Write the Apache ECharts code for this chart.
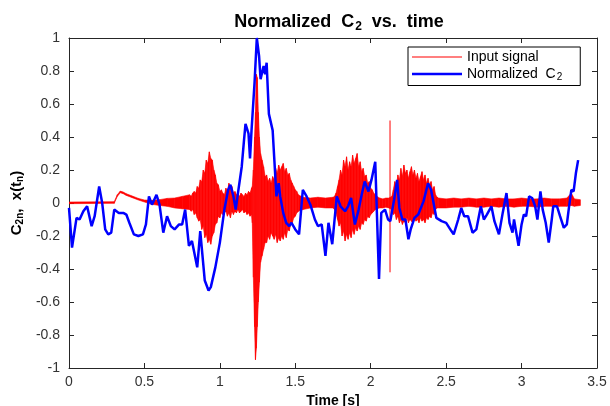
<!DOCTYPE html>
<html>
<head>
<meta charset="utf-8">
<script src="https://cdn.jsdelivr.net/npm/echarts@6/dist/echarts.min.js"></script>
<style>
html,body{margin:0;padding:0;background:#fff;overflow:hidden;}
#chart{width:610px;height:406px;}
</style>
</head>
<body>
<div id="chart"></div>
<script>
// ---- Normalized C2 (blue line) ----
const c2Time = [0,0.02,0.05,0.07,0.095,0.12,0.15,0.17,0.20,0.22,0.24,0.26,0.28,0.30,0.33,0.36,0.38,0.40,0.43,0.46,0.49,0.51,0.53,0.55,0.58,0.60,0.625,0.65,0.675,0.70,0.73,0.75,0.77,0.795,0.815,0.85,0.87,0.90,0.925,0.94,0.97,1.00,1.03,1.055,1.07,1.09,1.105,1.12,1.145,1.16,1.17,1.19,1.20,1.21,1.23,1.245,1.26,1.27,1.29,1.30,1.31,1.325,1.35,1.36,1.375,1.39,1.40,1.42,1.44,1.46,1.475,1.50,1.525,1.55,1.575,1.60,1.63,1.65,1.675,1.70,1.72,1.745,1.775,1.80,1.83,1.85,1.87,1.895,1.92,1.94,1.96,1.985,2.005,2.03,2.055,2.07,2.095,2.115,2.13,2.155,2.175,2.19,2.21,2.23,2.25,2.265,2.29,2.315,2.35,2.38,2.40,2.435,2.47,2.50,2.535,2.55,2.58,2.60,2.62,2.645,2.675,2.70,2.73,2.75,2.77,2.80,2.82,2.85,2.875,2.90,2.92,2.94,2.95,2.98,3.00,3.015,3.03,3.05,3.07,3.09,3.105,3.125,3.14,3.16,3.18,3.20,3.21,3.235,3.255,3.28,3.30,3.315,3.33,3.345,3.36,3.375];
const c2Value = [-0.03,-0.27,-0.09,-0.10,-0.05,-0.02,-0.14,-0.08,0.10,0.0,-0.16,-0.19,-0.18,-0.04,-0.06,-0.06,-0.07,-0.12,-0.19,-0.20,-0.19,-0.13,0.04,-0.01,0.05,-0.01,-0.18,-0.08,-0.14,-0.16,-0.13,-0.13,-0.04,-0.26,-0.23,-0.39,-0.17,-0.47,-0.53,-0.51,-0.39,-0.24,-0.04,0.08,0.11,0.04,-0.04,0.06,0.22,0.38,0.48,0.42,0.27,0.44,0.73,1.0,0.89,0.75,0.83,0.78,0.85,0.54,0.44,0.28,0.04,0.12,0.04,-0.06,-0.12,-0.14,-0.12,-0.16,-0.19,0.08,0.04,-0.01,-0.10,-0.14,-0.13,-0.32,-0.12,-0.25,0.04,-0.02,-0.05,-0.02,0.03,-0.13,-0.04,0.05,0.13,0.07,0.14,0.25,-0.46,-0.06,-0.04,-0.10,-0.11,0.02,0.14,-0.03,-0.10,-0.10,-0.22,-0.16,-0.09,-0.07,0.01,0.12,0.08,-0.09,-0.11,-0.12,-0.17,-0.19,-0.10,-0.03,-0.08,-0.08,-0.18,-0.16,-0.02,-0.10,-0.07,-0.02,-0.11,-0.19,-0.06,0.06,-0.12,-0.18,-0.10,-0.26,-0.13,-0.07,-0.08,0.04,0.03,-0.02,-0.10,0.07,-0.04,-0.12,-0.24,-0.10,-0.02,-0.02,-0.08,-0.15,-0.13,-0.02,0.08,0.07,0.18,0.26];

// ---- Input signal (red) envelope: time, upper, lower ----
const sigTime = [
  0,0.30,0.32,0.34,0.36,0.38,0.42,0.46,0.50,0.55,0.60,0.65,0.70,0.75,
  0.80,0.81,0.82,0.83,0.84,0.85,0.86,0.87,0.88,0.89,0.90,0.91,0.92,0.93,0.94,0.95,0.96,0.97,0.98,0.99,1.00,1.01,1.02,
  1.03,1.04,1.05,1.06,1.07,1.08,1.09,1.10,1.11,1.12,1.13,1.14,1.15,1.16,1.17,1.18,1.19,1.20,1.21,
  1.215,1.222,1.23,1.236,1.242,1.248,1.255,1.262,1.27,1.28,1.29,1.30,
  1.31,1.32,1.33,1.34,1.35,1.36,1.37,1.38,1.39,1.40,1.41,1.42,1.43,1.44,1.45,1.46,1.47,1.48,1.49,1.50,1.51,1.52,
  1.55,1.60,1.65,1.70,1.75,
  1.76,1.77,1.78,1.79,1.80,1.81,1.82,1.83,1.84,1.85,1.86,1.87,1.88,1.89,1.90,1.91,1.92,1.93,1.94,1.95,1.96,1.97,1.98,1.99,2.00,2.01,2.02,2.03,2.04,
  2.06,2.08,2.10,2.12,
  2.14,2.15,2.16,2.17,2.18,2.19,2.20,2.21,2.22,2.23,2.24,2.25,2.26,2.27,2.28,2.29,2.30,2.31,2.32,2.33,2.34,2.35,2.36,2.37,2.38,2.39,2.40,2.41,2.42,2.43,2.44,
  2.45,2.50,2.55,2.60,2.65,2.70,2.75,2.80,2.85,2.90,2.95,3.00,3.05,3.10,3.15,3.20,3.25,3.30,3.33,3.35,3.39];
const sigHi = [
  0.006,0.008,0.05,0.072,0.066,0.056,0.042,0.028,0.018,0.016,0.02,0.028,0.03,0.04,
  0.05,0.04,0.06,0.07,0.06,0.10,0.09,0.14,0.13,0.20,0.18,0.26,0.24,0.31,0.27,0.26,0.20,0.17,0.12,0.11,0.07,0.08,0.06,
  0.05,0.09,0.07,0.12,0.08,0.10,0.06,0.07,0.05,0.06,0.04,0.06,0.05,0.04,0.06,0.05,0.07,0.06,0.09,
  0.10,0.2,0.4,0.55,0.78,0.76,0.55,0.4,0.3,0.26,0.22,0.16,
  0.17,0.13,0.15,0.12,0.16,0.14,0.21,0.18,0.23,0.20,0.22,0.24,0.19,0.21,0.17,0.18,0.14,0.12,0.10,0.08,0.07,0.05,
  0.035,0.03,0.035,0.03,0.035,
  0.04,0.06,0.10,0.14,0.20,0.17,0.26,0.22,0.28,0.20,0.25,0.22,0.29,0.24,0.27,0.30,0.22,0.25,0.19,0.21,0.16,0.17,0.12,0.13,0.09,0.08,0.06,0.05,0.04,
  0.03,0.025,0.03,0.03,
  0.04,0.08,0.13,0.10,0.17,0.14,0.21,0.16,0.23,0.18,0.20,0.15,0.19,0.22,0.17,0.20,0.15,0.18,0.13,0.16,0.19,0.14,0.17,0.12,0.15,0.11,0.13,0.08,0.10,0.05,0.035,
  0.03,0.025,0.03,0.025,0.03,0.025,0.03,0.025,0.03,0.025,0.025,0.03,0.025,0.025,0.03,0.025,0.025,0.03,0.06,0.025,0.02];
const sigLo = [
  -0.004,-0.002,0.04,0.062,0.056,0.046,0.032,0.018,0.006,-0.008,-0.015,-0.02,-0.03,-0.035,
  -0.04,-0.05,-0.04,-0.07,-0.06,-0.09,-0.11,-0.10,-0.16,-0.14,-0.21,-0.19,-0.24,-0.22,-0.25,-0.20,-0.18,-0.13,-0.12,-0.08,-0.09,-0.06,-0.07,
  -0.06,-0.05,-0.08,-0.06,-0.09,-0.05,-0.07,-0.05,-0.06,-0.04,-0.06,-0.05,-0.04,-0.06,-0.05,-0.07,-0.06,-0.08,-0.07,
  -0.12,-0.45,-0.75,-0.95,-0.88,-0.75,-0.6,-0.48,-0.36,-0.32,-0.28,-0.24,
  -0.24,-0.20,-0.22,-0.18,-0.20,-0.22,-0.19,-0.24,-0.21,-0.23,-0.20,-0.22,-0.18,-0.21,-0.16,-0.17,-0.13,-0.12,-0.09,-0.08,-0.06,-0.05,
  -0.04,-0.03,-0.025,-0.03,-0.03,
  -0.04,-0.06,-0.10,-0.14,-0.12,-0.20,-0.17,-0.23,-0.19,-0.22,-0.18,-0.21,-0.16,-0.19,-0.15,-0.17,-0.14,-0.16,-0.12,-0.13,-0.10,-0.11,-0.08,-0.09,-0.07,-0.06,-0.05,-0.04,-0.035,
  -0.03,-0.03,-0.025,-0.03,
  -0.04,-0.07,-0.06,-0.10,-0.08,-0.12,-0.10,-0.13,-0.11,-0.12,-0.09,-0.12,-0.10,-0.11,-0.12,-0.09,-0.11,-0.10,-0.12,-0.09,-0.11,-0.10,-0.12,-0.09,-0.10,-0.08,-0.09,-0.06,-0.07,-0.04,-0.03,
  -0.03,-0.03,-0.025,-0.025,-0.02,-0.025,-0.025,-0.02,-0.025,-0.02,-0.025,-0.02,-0.02,-0.025,-0.02,-0.02,-0.02,-0.02,-0.015,-0.02,-0.015];
// isolated spike in the input signal
const spikeTime = [2.128, 2.128];
const spikeValue = [-0.42, 0.50];

const xTicks = {min: 0, max: 3.5, interval: 0.5};
const yTicks = {min: -1, max: 1, interval: 0.2};

const FONT = "'Liberation Sans', Arial, Helvetica, sans-serif";
const AX = '#262626';

const chart = echarts.init(document.getElementById('chart'));

function axisCommon(extra) {
  return Object.assign({
    type: 'value',
    splitLine: {show: false},
    axisLine: {show: true, onZero: false, lineStyle: {color: AX, width: 1}},
    axisTick: {show: true, inside: true, length: 5, lineStyle: {color: AX}},
    axisLabel: {show: false}
  }, extra);
}

const option = {
  animation: false,
  backgroundColor: '#fff',
  title: {
    text: '{n|Normalized  C}{s|2}{n|  vs.  time}',
    left: 334, top: 7, textAlign: 'center',
    textStyle: {rich: {
      n: {fontFamily: FONT, fontWeight: 'bold', fontSize: 18, color: '#000'},
      s: {fontFamily: FONT, fontWeight: 'bold', fontSize: 12, color: '#000', padding: [9, 0, 0, 1]}
    }}
  },
  legend: {
    orient: 'vertical',
    left: 408, top: 47,
    itemWidth: 50, itemHeight: 12, itemGap: 3,
    padding: [3, 18, 3, 4],
    borderColor: '#000', borderWidth: 1,
    backgroundColor: '#fff',
    selectedMode: false,
    data: [
      {name: 'Input signal', icon: 'path://M0,0H50V1H0Z'},
      {name: 'Normalized C2', icon: 'path://M0,0H50V2.5H0Z'}
    ],
    formatter: function (name) {
      return name === 'Normalized C2' ? '{t|Normalized  C}{u|2}' : '{t|' + name + '}';
    },
    textStyle: {
      rich: {
        t: {fontFamily: FONT, fontSize: 14, color: '#000'},
        u: {fontFamily: FONT, fontSize: 10, color: '#000', padding: [7, 0, 0, 1]}
      }
    }
  },
  grid: {left: 69, right: 13, top: 38, bottom: 38, containLabel: false, outerBoundsMode: 'none'},
  xAxis: [
    axisCommon(Object.assign({position: 'bottom',
      axisLabel: {show: true, color: '#333', fontFamily: FONT, fontSize: 14, margin: 7},
      name: 'Time [s]', nameLocation: 'middle', nameGap: 16,
      nameTextStyle: {fontFamily: FONT, fontWeight: 'bold', fontSize: 14, lineHeight: 15, color: '#000'}
    }, xTicks)),
    axisCommon(Object.assign({position: 'top'}, xTicks))
  ],
  yAxis: [
    axisCommon(Object.assign({position: 'left',
      axisLabel: {show: true, color: '#333', fontFamily: FONT, fontSize: 14, margin: 9},
      name: '{n|C}{s|2n}{n|,  x(t}{s|n}{n|)}', nameLocation: 'middle', nameGap: 42, nameRotate: 90,
      nameTextStyle: {rich: {
        n: {fontFamily: FONT, fontWeight: 'bold', fontSize: 15, color: '#000'},
        s: {fontFamily: FONT, fontWeight: 'bold', fontSize: 10, color: '#000', padding: [7, 0, 0, 0]}
      }}
    }, yTicks)),
    axisCommon(Object.assign({position: 'right'}, yTicks))
  ],
  series: [
    {
      name: 'Input signal', type: 'line', xAxisIndex: 0, yAxisIndex: 0,
      symbol: 'none', showSymbol: false,
      lineStyle: {color: '#ff0000', width: 1}, itemStyle: {color: '#ff0000'},
      data: spikeTime.map((t, i) => [t, spikeValue[i]]),
      z: 2
    },
    {
      name: 'Input envelope', type: 'custom', xAxisIndex: 0, yAxisIndex: 0,
      clip: true,
      data: sigTime.map((t, i) => [t, sigLo[i], sigHi[i]]),
      encode: {x: 0, y: [1, 2]},
      renderItem: function (params, api) {
        const i = params.dataIndex;
        if (i >= sigTime.length - 1) return null;
        const p1 = api.coord([sigTime[i], sigHi[i]]);
        const p2 = api.coord([sigTime[i + 1], sigHi[i + 1]]);
        const p3 = api.coord([sigTime[i + 1], sigLo[i + 1]]);
        const p4 = api.coord([sigTime[i], sigLo[i]]);
        return {
          type: 'polygon',
          shape: {points: [p1, p2, p3, p4]},
          style: {fill: '#ff0000', stroke: '#ff0000', lineWidth: 0.6}
        };
      },
      z: 2
    },
    {
      name: 'Normalized C2', type: 'line', xAxisIndex: 0, yAxisIndex: 0,
      symbol: 'none', showSymbol: false,
      lineStyle: {color: '#0000ff', width: 2.5}, itemStyle: {color: '#0000ff'},
      data: c2Time.map((t, i) => [t, c2Value[i]]),
      z: 3
    }
  ]
};
chart.setOption(option);
</script>
</body>
</html>
